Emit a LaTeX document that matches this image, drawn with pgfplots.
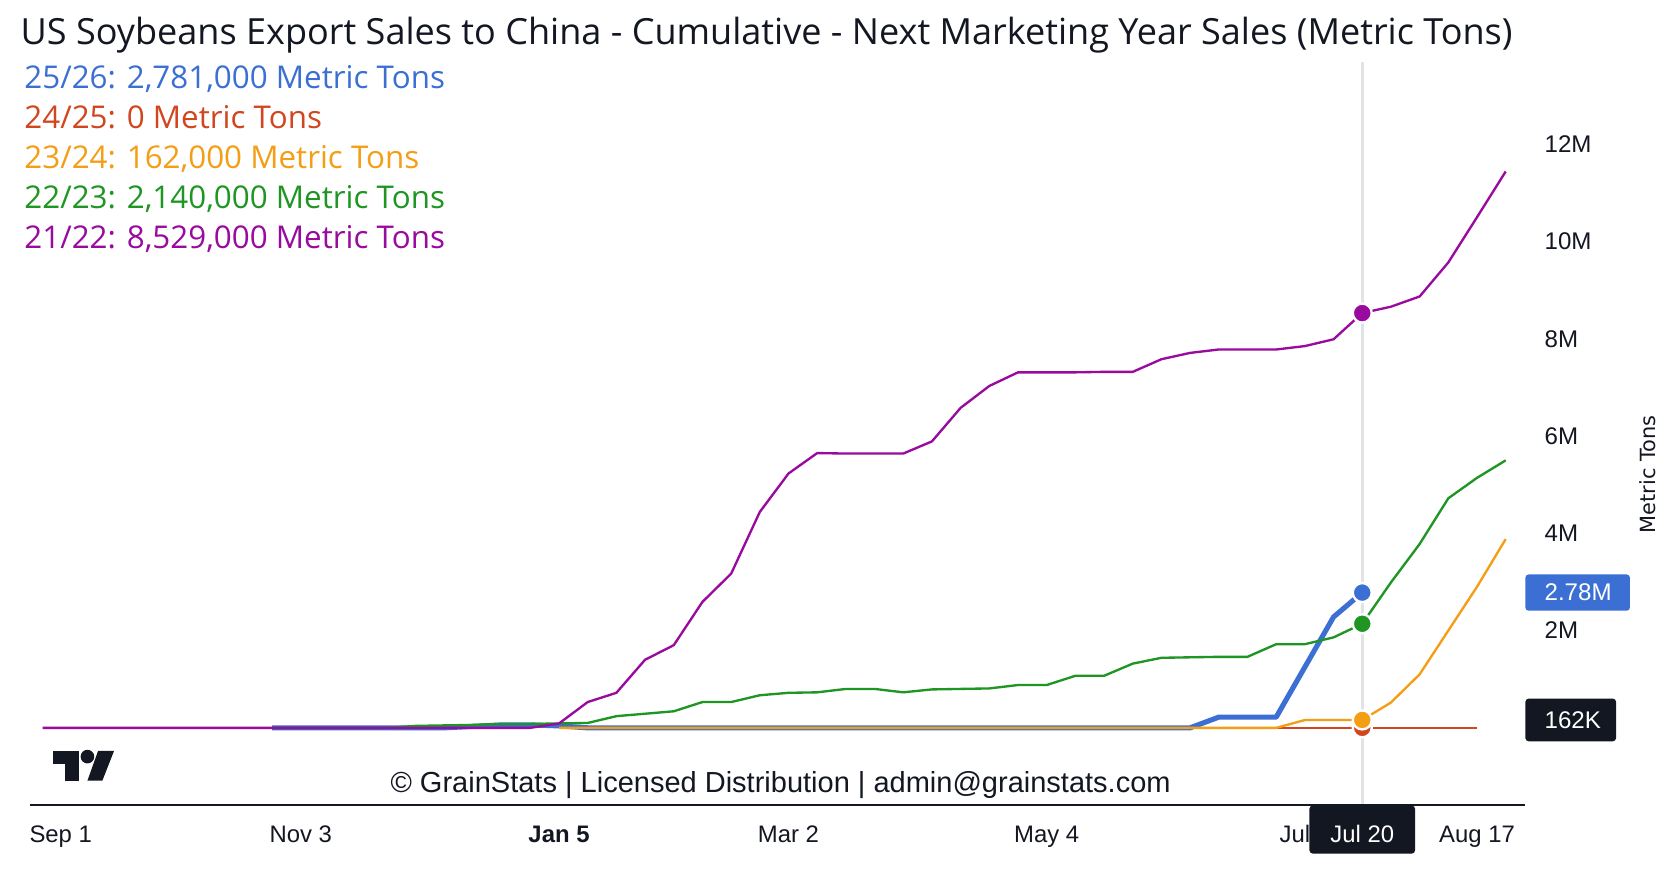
\documentclass[border=0pt]{standalone}
\usepackage{fontspec}
\setmainfont{Open Sans}
\newfontfamily\tvfont{Liberation Sans}
\newfontfamily\dvfont{DejaVu Sans}
\usepackage{pgfplots}
\pgfplotsset{compat=1.18}
\usepackage{pgfplotstable}
\definecolor{cblue}{RGB}{59,111,212}
\definecolor{cred}{RGB}{210,70,31}
\definecolor{corange}{RGB}{243,158,20}
\definecolor{cgreen}{RGB}{31,150,36}
\definecolor{cpurple}{RGB}{153,10,158}
\definecolor{tvdark}{RGB}{19,23,34}
\definecolor{cross}{RGB}{226,227,230}

\pgfplotstableread{
w v
0 0
1 0
2 0
3 0
4 0
5 0
6 0
7 0
8 0
9 0
10 0
11 0
12 0
13 0
14 0
15 0
16 0
17 0
18 0.09
19 0.53
20 0.72
21 1.40
22 1.70
23 2.59
24 3.17
25 4.44
26 5.23
27 5.65
28 5.64
29 5.64
30 5.64
31 5.89
32 6.58
33 7.03
34 7.31
35 7.31
36 7.31
37 7.32
38 7.32
39 7.58
40 7.71
41 7.78
42 7.78
43 7.78
44 7.85
45 7.99
46 8.529
47 8.66
48 8.87
49 9.57
50 10.50
51 11.44
}\tpurple

\pgfplotstableread{
w v
8 0
9 0
10 0
11 0
12 0
13 0.04
14 0.05
15 0.06
16 0.08
17 0.08
18 0.09
19 0.10
20 0.24
21 0.29
22 0.34
23 0.53
24 0.53
25 0.67
26 0.72
27 0.73
28 0.80
29 0.80
30 0.73
31 0.79
32 0.80
33 0.81
34 0.88
35 0.88
36 1.07
37 1.07
38 1.32
39 1.44
40 1.45
41 1.46
42 1.46
43 1.72
44 1.72
45 1.86
46 2.14
47 2.99
48 3.78
49 4.72
50 5.14
51 5.50
}\tgreen

\pgfplotstableread{
w v
8 0
9 0
10 0
11 0
12 0
13 0
14 0
15 0.03
16 0.06
17 0.06
18 0.04
19 0
20 0
21 0
22 0
23 0
24 0
25 0
26 0
27 0
28 0
29 0
30 0
31 0
32 0
33 0
34 0
35 0
36 0
37 0
38 0
39 0
40 0
41 0.22
42 0.22
43 0.22
44 1.25
45 2.28
46 2.781
}\tblue

\pgfplotstableread{
w v
18 0
19 0
20 0
21 0
22 0
23 0
24 0
25 0
26 0
27 0
28 0
29 0
30 0
31 0
32 0
33 0
34 0
35 0
36 0
37 0
38 0
39 0
40 0
41 0
42 0
43 0
44 0.16
45 0.162
46 0.162
47 0.52
48 1.10
49 2.00
50 2.90
51 3.88
}\torange

\pgfplotstableread{
w v
18 0
19 0
20 0
21 0
22 0
23 0
24 0
25 0
26 0
27 0
28 0
29 0
30 0
31 0
32 0
33 0
34 0
35 0
36 0
37 0
38 0
39 0
40 0
41 0
42 0
43 0
44 0
45 0
46 0
47 0
48 0
49 0
50 0
}\tred

\begin{document}
\begin{tikzpicture}
\path[use as bounding box, fill=white] (0,0) rectangle (783pt,412.5pt);

\node[anchor=base west, inner sep=0, text=tvdark, font=\fontsize{16.9}{19}\selectfont] at (9.5pt,391.5pt)
  {US Soybeans Export Sales to China - Cumulative - Next Marketing Year Sales (Metric Tons)};
\begin{scope}[every node/.style={anchor=base west, inner sep=0, font=\fontsize{14.7}{17}\selectfont}]
\node[text=cblue]   at (11.25pt,371.05pt) {25/26: 2,781,000 Metric Tons};
\node[text=cred]    at (11.25pt,352.30pt) {24/25: 0 Metric Tons};
\node[text=corange] at (11.25pt,333.55pt) {23/24: 162,000 Metric Tons};
\node[text=cgreen]  at (11.25pt,314.80pt) {22/23: 2,140,000 Metric Tons};
\node[text=cpurple] at (11.25pt,296.05pt) {21/22: 8,529,000 Metric Tons};
\end{scope}

\begin{axis}[
  at={(14pt,35pt)}, anchor=south west,
  scale only axis, width=701pt, height=348.5pt,
  xmin=-0.446, xmax=51.673, ymin=-1.59, ymax=13.695,
  clip=false,
  axis line style={draw=none},
  tick style={draw=none},
  ytick={2,4,6,8,10,12},
  yticklabels={2M,4M,6M,8M,10M,12M},
  yticklabel pos=right,
  yticklabel style={anchor=west, inner sep=0pt, xshift=9pt, text=tvdark, font=\tvfont\fontsize{11.3}{13}\selectfont},
  xtick={0.63,9,18,26,35,50},
  xticklabels={Sep 1,Nov 3,\textbf{Jan 5},Mar 2,May 4,Aug 17},
  xticklabel style={anchor=base, inner sep=0pt, yshift=-17.5pt, text=tvdark, font=\tvfont\fontsize{11.2}{13}\selectfont},
  line join=round,
]
\draw[cross, line width=1.2pt] (axis cs:46,-1.59) -- (axis cs:46,13.695);
\draw[tvdark, line width=0.75pt] (rel axis cs:0,0) -- (rel axis cs:1,0);

\addplot[cblue, line width=2.4pt, no marks] table[x=w,y=v]{\tblue};
\addplot[cred, line width=1.1pt, no marks] table[x=w,y=v]{\tred};
\addplot[corange, line width=1.1pt, no marks] table[x=w,y=v]{\torange};
\addplot[cgreen, line width=1.1pt, no marks] table[x=w,y=v]{\tgreen};
\addplot[cpurple, line width=1.1pt, no marks] table[x=w,y=v]{\tpurple};

\addplot[only marks, mark=*, mark size=4.45pt, mark options={fill=cred, draw=white, line width=1.1pt}] coordinates {(46,0)};
\addplot[only marks, mark=*, mark size=4.45pt, mark options={fill=corange, draw=white, line width=1.1pt}] coordinates {(46,0.162)};
\addplot[only marks, mark=*, mark size=4.45pt, mark options={fill=cgreen, draw=white, line width=1.1pt}] coordinates {(46,2.14)};
\addplot[only marks, mark=*, mark size=4.45pt, mark options={fill=cblue, draw=white, line width=1.1pt}] coordinates {(46,2.781)};
\addplot[only marks, mark=*, mark size=4.45pt, mark options={fill=cpurple, draw=white, line width=1.1pt}] coordinates {(46,8.529)};

% value boxes on the right
\node[anchor=west, fill=cblue, minimum width=49pt, minimum height=17pt, inner sep=0, rounded corners=1.5pt] at (axis cs:51.673,2.781) {};
\node[anchor=west, inner sep=0, xshift=9pt, text=white, font=\tvfont\fontsize{11.3}{13}\selectfont] at (axis cs:51.673,2.781) {2.78M};
\node[anchor=west, fill=tvdark, minimum width=42.5pt, minimum height=20pt, inner sep=0, rounded corners=1.5pt] at (axis cs:51.673,0.162) {};
\node[anchor=west, inner sep=0, xshift=9pt, text=white, font=\tvfont\fontsize{11.3}{13}\selectfont] at (axis cs:51.673,0.162) {162K};

% hidden Jul label and crosshair date box
\node[anchor=base, inner sep=0, yshift=-17.5pt, text=tvdark, font=\tvfont\fontsize{11.2}{13}\selectfont] at (axis cs:44,-1.59) {Jul 6};
\node[anchor=north, fill=tvdark, minimum width=49.5pt, minimum height=22.5pt, inner sep=0, rounded corners=1.5pt] at (axis cs:46,-1.59) {};
\node[anchor=base, inner sep=0, yshift=-17.5pt, text=white, font=\tvfont\fontsize{11.2}{13}\selectfont] at (axis cs:46,-1.59) {Jul 20};
\end{axis}

% axis title on the right
\node[rotate=90, inner sep=0, text=tvdark, font=\dvfont\fontsize{9.8}{12}\selectfont] at (772.5pt,190pt) {Metric Tons};

% watermark logo
\fill[tvdark] (25pt,60.5pt) rectangle (37pt,54.5pt);
\fill[tvdark] (30.5pt,60.5pt) rectangle (37pt,46.5pt);
\fill[tvdark] (41pt,57.75pt) circle (3.2pt);
\fill[tvdark] (46pt,60.5pt) -- (53.5pt,60.5pt) -- (48pt,46.5pt) -- (41pt,46.5pt) -- cycle;

% copyright
\node[anchor=base, inner sep=0, text=tvdark, font=\tvfont\fontsize{13.6}{16}\selectfont] at (366pt,41pt)
  {\textcopyright{} GrainStats | Licensed Distribution | admin@grainstats.com};
\end{tikzpicture}
\end{document}
